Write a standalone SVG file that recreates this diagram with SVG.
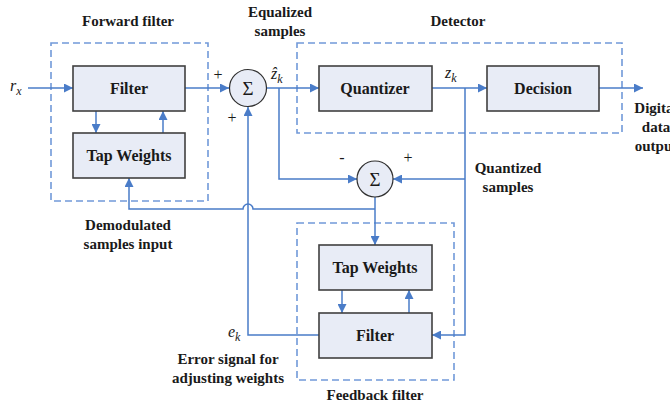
<svg xmlns="http://www.w3.org/2000/svg" width="670" height="406" viewBox="0 0 670 406">
<defs>
<marker id="ah" viewBox="0 0 10 10" refX="10" refY="5" markerWidth="10" markerHeight="9" markerUnits="userSpaceOnUse" orient="auto">
<path d="M0,0 L10,5 L0,10 z" fill="#4A7CC8"/>
</marker>
</defs>
<style>
.grp{fill:none;stroke:#7199D9;stroke-width:1.6;stroke-dasharray:7,4}
.box{fill:#E8ECF6;stroke:#404040;stroke-width:1.6}
.sum{fill:#E8ECF6;stroke:#303030;stroke-width:1.2}
.c{fill:none;stroke:#4A7CC8;stroke-width:1.5}
.a{marker-end:url(#ah)}
.lb{font-family:"Liberation Serif",serif;font-weight:bold;font-size:15px;fill:#1a1a1a;text-anchor:middle}
.bx{font-family:"Liberation Serif",serif;font-weight:bold;font-size:16px;fill:#1a1a1a;text-anchor:middle}
.m{font-family:"Liberation Serif",serif;font-style:italic;font-size:16px;fill:#1a1a1a}
.s{font-family:"Liberation Serif",serif;font-size:19px;fill:#1a1a1a;text-anchor:middle}
.p{font-family:"Liberation Serif",serif;font-size:16px;fill:#1a1a1a;text-anchor:middle}
</style>
<g id="groups">
<rect class="grp" x="51" y="43" width="157" height="158"/>
<rect class="grp" x="297" y="43" width="325" height="90"/>
<rect class="grp" x="297" y="223" width="157" height="157"/>
</g>
<g id="connectors">
<path class="c a" d="M28,88 H73"/>
<path class="c a" d="M185,88 H229"/>
<path class="c a" d="M96,111 V133"/>
<path class="c a" d="M163,133 V111"/>
<path class="c a" d="M266,88 H319"/>
<path class="c a" d="M279,88 V179 H357"/>
<path class="c a" d="M432,88 H487"/>
<path class="c a" d="M599,88 H643"/>
<path class="c a" d="M465,88 V335 H432"/>
<path class="c a" d="M465,179 H393"/>
<path class="c a" d="M375,197 V245"/>
<path class="c a" d="M375,209 H253 A5,5 0 0 0 243,209 H129 V178"/>
<path class="c a" d="M342,290 V313"/>
<path class="c a" d="M409,313 V290"/>
<path class="c a" d="M319,335 H248 V107"/>
</g>
<g id="fwd-filter">
<rect class="box" x="73" y="66" width="112" height="45"/>
<text class="bx" x="129" y="94">Filter</text>
</g>
<g id="fwd-tapweights">
<rect class="box" x="73" y="133" width="112" height="45"/>
<text class="bx" x="129" y="161">Tap Weights</text>
</g>
<g id="sum1">
<circle class="sum" cx="248" cy="88" r="18.5"/>
<text class="s" x="248" y="95">Σ</text>
<text class="p" x="218" y="80">+</text>
<text class="p" x="232" y="123">+</text>
</g>
<g id="quantizer">
<rect class="box" x="319" y="66" width="113" height="45"/>
<text class="bx" x="375" y="94">Quantizer</text>
</g>
<g id="decision">
<rect class="box" x="487" y="66" width="112" height="45"/>
<text class="bx" x="543" y="94">Decision</text>
</g>
<g id="sum2">
<circle class="sum" cx="375" cy="179" r="18"/>
<text class="s" x="375" y="186">Σ</text>
<text class="p" x="342" y="163">-</text>
<text class="p" x="408" y="163">+</text>
</g>
<g id="fb-tapweights">
<rect class="box" x="319" y="245" width="113" height="45"/>
<text class="bx" x="375" y="273">Tap Weights</text>
</g>
<g id="fb-filter">
<rect class="box" x="319" y="313" width="113" height="45"/>
<text class="bx" x="375" y="341">Filter</text>
</g>
<g id="labels">
<text class="lb" x="128" y="26">Forward filter</text>
<text class="lb" x="280" y="17">Equalized</text>
<text class="lb" x="280" y="36">samples</text>
<text class="lb" x="458" y="26">Detector</text>
<text class="lb" x="656" y="113">Digital</text>
<text class="lb" x="656" y="132">data</text>
<text class="lb" x="656" y="151">output</text>
<text class="lb" x="508" y="173">Quantized</text>
<text class="lb" x="508" y="192">samples</text>
<text class="lb" x="128" y="230">Demodulated</text>
<text class="lb" x="128" y="249">samples input</text>
<text class="lb" x="228" y="364">Error signal for</text>
<text class="lb" x="228" y="383">adjusting weights</text>
<text class="lb" x="375" y="400">Feedback filter</text>
<text class="m" x="10" y="91">r<tspan font-size="12" dy="4">x</tspan></text>
<text class="m" x="271" y="79">ẑ<tspan font-size="12" dy="4">k</tspan></text>
<text class="m" x="445" y="78">z<tspan font-size="12" dy="4">k</tspan></text>
<text class="m" x="228" y="337">e<tspan font-size="12" dy="4">k</tspan></text>
</g>
</svg>
